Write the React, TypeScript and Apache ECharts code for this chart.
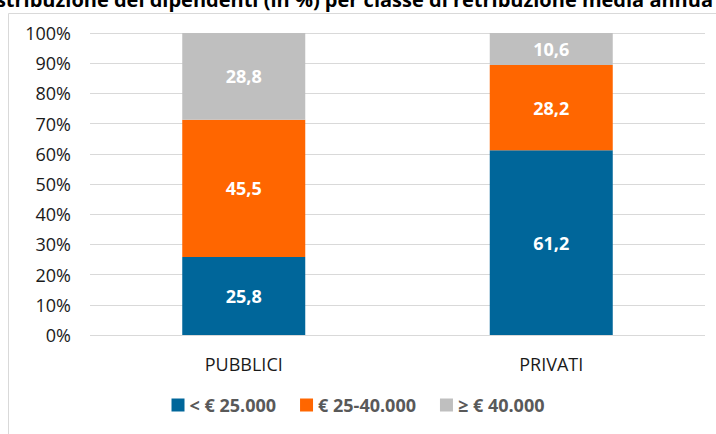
import React, { useEffect, useRef } from "react";
import * as echarts from "echarts";

const categories = ["PUBBLICI", "PRIVATI"];
const seriesNames = ["< € 25.000", "€ 25-40.000", "≥ € 40.000"];
const low = [25.8, 61.2];
const mid = [45.5, 28.2];
const high = [28.8, 10.6];
const colors = ["#00669A", "#FF6600", "#BFBFBF"];
const titleText = "Distribuzione dei dipendenti (in %) per classe di retribuzione media annua";

export default function App() {
  const ref = useRef<HTMLDivElement>(null);
  useEffect(() => {
    const chart = echarts.init(ref.current!, null, { renderer: "svg" });
    const font = "'Open Sans', 'Noto Sans', sans-serif";
    const values = [low, mid, high];
    chart.setOption({
      animation: false,
      textStyle: { fontFamily: font },
      graphic: [
        {
          type: "rect",
          shape: { x: 8.5, y: 13.5, width: 720, height: 440 },
          style: { fill: "none", stroke: "#D9D9D9", lineWidth: 1 },
          z: 0,
        },
        {
          type: "text",
          x: 344,
          y: -0.5,
          style: {
            text: titleText,
            textAlign: "center",
            textVerticalAlign: "middle",
            fontSize: 20,
            fontWeight: "bold",
            fontFamily: font,
            fill: "#000",
          },
        },
      ],
      grid: { left: 90, right: 11, top: 33, bottom: 99, containLabel: false },
      legend: {
        bottom: 15,
        left: "center",
        itemWidth: 13,
        itemHeight: 13,
        itemGap: 24,
        icon: "rect",
        textStyle: { fontSize: 18, fontWeight: "bold", color: "#595959", fontFamily: font },
        data: seriesNames,
      },
      xAxis: {
        type: "category",
        data: categories,
        axisLine: { show: false },
        axisTick: { show: false },
        axisLabel: { fontSize: 18, color: "#1a1a1a", margin: 20, fontFamily: font },
      },
      yAxis: {
        type: "value",
        min: 0,
        max: 100,
        interval: 10,
        axisLabel: { formatter: "{value}%", fontSize: 18, color: "#1a1a1a", margin: 19, fontFamily: font },
        splitLine: { lineStyle: { color: "#D9D9D9", width: 1 } },
        axisLine: { show: false },
        axisTick: { show: false },
      },
      series: seriesNames.map((name, i) => ({
        name,
        type: "bar",
        stack: "total",
        barWidth: 123,
        data: values[i],
        itemStyle: { color: colors[i] },
        label: {
          show: true,
          position: "inside",
          color: "#fff",
          fontSize: 18,
          fontWeight: "bold",
          fontFamily: font,
          formatter: (p: any) => p.value.toFixed(1).replace(".", ","),
        },
      })),
    });
    return () => chart.dispose();
  }, []);
  return <div ref={ref} style={{ position: "absolute", left: 0, top: 0, width: 716, height: 434 }} />;
}
